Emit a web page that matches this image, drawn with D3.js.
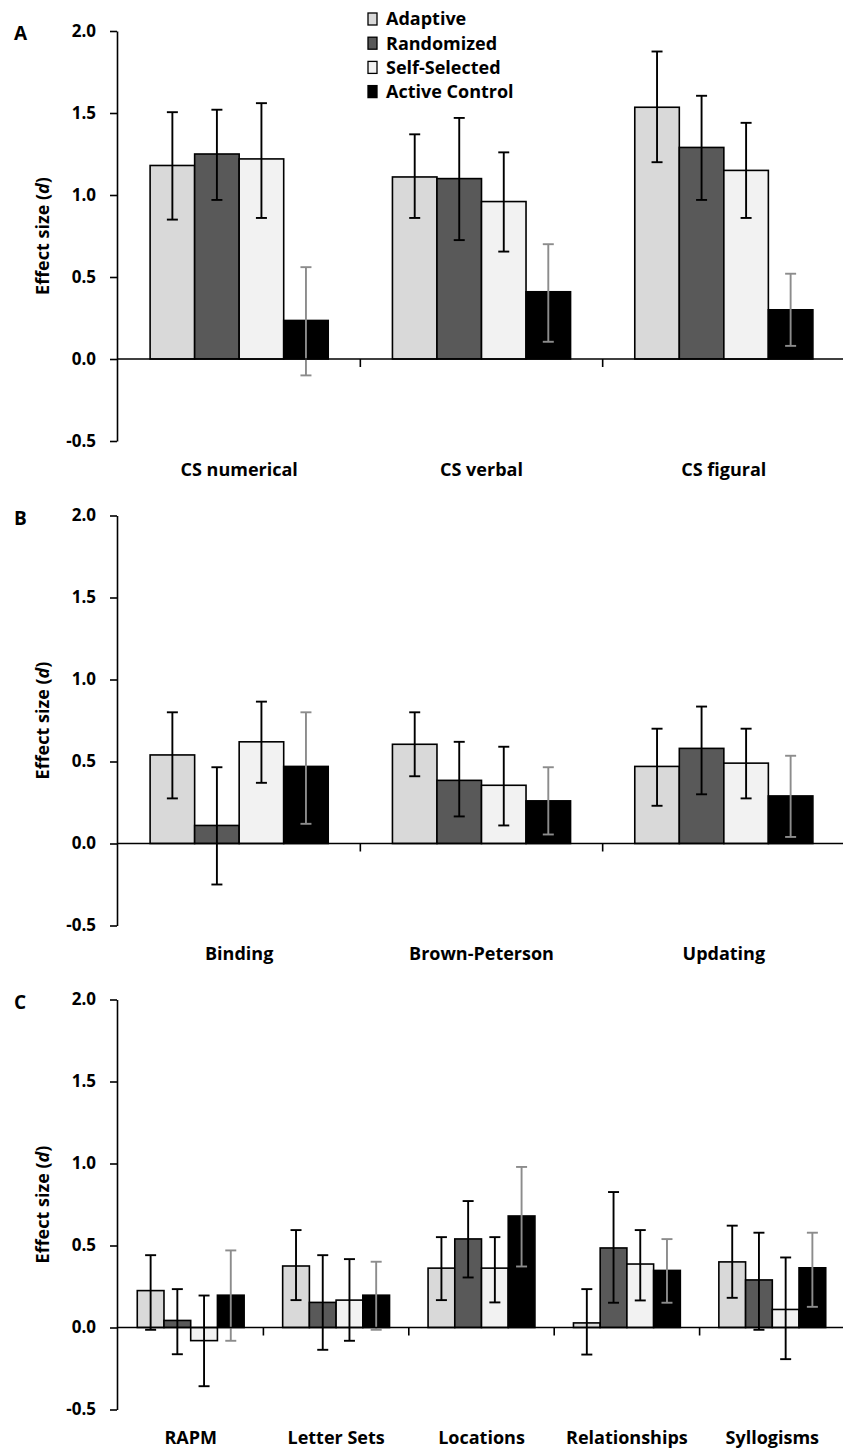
<!DOCTYPE html>
<html>
<head>
<meta charset="utf-8">
<script src="https://cdn.jsdelivr.net/npm/d3@7"></script>
<style>
  body { margin: 0; background: #fff; }
  text { font-family: "Open Sans", sans-serif; font-weight: bold; fill: #000; }
</style>
</head>
<body>
<div id="chart-area"></div>
<script>
// Data
const seriesNames = ["Adaptive", "Randomized", "Self-Selected", "Active Control"]
const yTicks = [-0.5, 0, 0.5, 1, 1.5, 2]

const catsA = ["CS numerical", "CS verbal", "CS figural"]
const meanA = [[1.18, 1.25, 1.22, 0.235], [1.11, 1.10, 0.96, 0.41], [1.535, 1.29, 1.15, 0.30]]
const lowA = [[0.85, 0.97, 0.86, -0.10], [0.86, 0.725, 0.655, 0.105], [1.20, 0.97, 0.86, 0.08]]
const highA = [[1.505, 1.52, 1.56, 0.56], [1.37, 1.47, 1.26, 0.70], [1.875, 1.605, 1.44, 0.52]]

const catsB = ["Binding", "Brown-Peterson", "Updating"]
const meanB = [[0.54, 0.11, 0.62, 0.47], [0.605, 0.385, 0.355, 0.26], [0.47, 0.58, 0.49, 0.29]]
const lowB = [[0.275, -0.25, 0.37, 0.12], [0.41, 0.165, 0.11, 0.055], [0.23, 0.30, 0.275, 0.04]]
const highB = [[0.80, 0.465, 0.865, 0.80], [0.80, 0.62, 0.59, 0.465], [0.70, 0.835, 0.70, 0.535]]

const catsC = ["RAPM", "Letter Sets", "Locations", "Relationships", "Syllogisms"]
const meanC = [[0.225, 0.043, -0.08, 0.197], [0.375, 0.153, 0.167, 0.197], [0.362, 0.54, 0.362, 0.68],
  [0.028, 0.485, 0.387, 0.348], [0.40, 0.29, 0.11, 0.364]]
const lowC = [[-0.014, -0.163, -0.358, -0.081], [0.167, -0.136, -0.081, -0.014], [0.167, 0.305, 0.153, 0.372],
  [-0.165, 0.151, 0.165, 0.151], [0.181, -0.014, -0.193, 0.126]]
const highC = [[0.441, 0.234, 0.195, 0.47], [0.594, 0.441, 0.417, 0.401], [0.551, 0.771, 0.551, 0.979],
  [0.234, 0.826, 0.594, 0.539], [0.621, 0.578, 0.427, 0.578]]

const panelLetters = ["A", "B", "C"]

const WIDTH = 843
const HEIGHT = 1451
const AXIS_X = 117
const X_RANGE = [118, 845]
const PANEL_TOPS = [31, 515.5, 999.5]
const PANEL_H = 410

const fills = ["#d9d9d9", "#595959", "#f2f2f2", "#000000"]
const errColors = ["#000", "#000", "#000", "#8c8c8c"]

const svg = d3.select("#chart-area").append("svg")
  .attr("width", WIDTH)
  .attr("height", HEIGHT)

const panels = [
  { cats: catsA, mean: meanA, low: lowA, high: highA },
  { cats: catsB, mean: meanB, low: lowB, high: highB },
  { cats: catsC, mean: meanC, low: lowC, high: highC }
]

// plain hyphen for negatives, like the original
const fmt = d => d3.format(".1f")(d).replace("\u2212", "-")

panels.forEach((p, pi) => {
  const top = PANEL_TOPS[pi]
  const g = svg.append("g")

  const y = d3.scaleLinear()
    .domain([-0.5, 2])
    .range([top + PANEL_H, top])

  const x0 = d3.scaleBand()
    .domain(p.cats)
    .range(X_RANGE)

  const groupW = x0.bandwidth() * 0.735
  const x1 = d3.scaleBand()
    .domain(d3.range(seriesNames.length))
    .range([(x0.bandwidth() - groupW) / 2, (x0.bandwidth() + groupW) / 2])

  // rows: one per (category, series)
  const rows = []
  p.cats.forEach((c, ci) => {
    seriesNames.forEach((s, si) => {
      rows.push({ cat: c, si: si, v: p.mean[ci][si], lo: p.low[ci][si], hi: p.high[ci][si] })
    })
  })

  // bars
  g.selectAll("rect.bar").data(rows).enter().append("rect")
    .attr("class", "bar")
    .attr("x", d => x0(d.cat) + x1(d.si))
    .attr("width", x1.bandwidth())
    .attr("y", d => y(Math.max(d.v, 0)))
    .attr("height", d => Math.abs(y(d.v) - y(0)))
    .attr("fill", d => fills[d.si])
    .attr("stroke", "#000")
    .attr("stroke-width", 1.6)

  // error bars
  const capW = 11
  const eb = g.selectAll("g.err").data(rows).enter().append("g")
    .attr("class", "err")
    .attr("stroke", d => errColors[d.si])
    .attr("stroke-width", 1.9)
    .attr("transform", d => `translate(${x0(d.cat) + x1(d.si) + x1.bandwidth() / 2},0)`)
  eb.append("line")
    .attr("y1", d => y(d.lo)).attr("y2", d => y(d.hi))
  eb.append("line")
    .attr("x1", -capW / 2).attr("x2", capW / 2)
    .attr("y1", d => y(d.hi)).attr("y2", d => y(d.hi))
  eb.append("line")
    .attr("x1", -capW / 2).attr("x2", capW / 2)
    .attr("y1", d => y(d.lo)).attr("y2", d => y(d.lo))

  // zero line with category separators
  g.append("line")
    .attr("x1", AXIS_X).attr("x2", WIDTH)
    .attr("y1", y(0)).attr("y2", y(0))
    .attr("stroke", "#000").attr("stroke-width", 1.6)
  g.selectAll("line.sep").data(p.cats.slice(1)).enter().append("line")
    .attr("class", "sep")
    .attr("x1", d => x0(d)).attr("x2", d => x0(d))
    .attr("y1", y(0)).attr("y2", y(0) + 8)
    .attr("stroke", "#000").attr("stroke-width", 1.6)

  // Y axis
  const yAxisCall = d3.axisLeft(y)
    .tickValues(yTicks)
    .tickFormat(fmt)
    .tickSize(7)
    .tickSizeOuter(0)
    .tickPadding(14)
  const yAxisGroup = g.append("g")
    .attr("transform", `translate(${AXIS_X},0)`)
    .call(yAxisCall)
  yAxisGroup.select(".domain").attr("stroke", "#000").attr("stroke-width", 1.6)
  yAxisGroup.selectAll(".tick line").attr("stroke", "#000").attr("stroke-width", 1.6)
  yAxisGroup.selectAll(".tick text")
    .attr("font-size", "17px")
    .attr("font-family", "Open Sans, sans-serif")
    .attr("font-weight", "bold")
    .attr("fill", "#000")

  // category labels
  const xAxisCall = d3.axisBottom(x0).tickSize(0).tickPadding(22)
  const xAxisGroup = g.append("g")
    .attr("transform", `translate(0,${y(-0.5)})`)
    .call(xAxisCall)
  xAxisGroup.select(".domain").remove()
  xAxisGroup.selectAll(".tick text")
    .attr("font-size", "18px")
    .attr("font-family", "Open Sans, sans-serif")
    .attr("font-weight", "bold")
    .attr("fill", "#000")

  // Y label
  const yLabel = g.append("text")
    .attr("transform", `translate(49,${(y(2) + y(-0.5)) / 2}) rotate(-90)`)
    .attr("text-anchor", "middle")
    .attr("font-size", "18px")
  yLabel.append("tspan").text("Effect size (")
  yLabel.append("tspan").attr("font-style", "italic").text("d")
  yLabel.append("tspan").text(")")

  // panel letter
  g.append("text")
    .attr("x", 14)
    .attr("y", y(2) + 9)
    .attr("font-size", "19px")
    .text(panelLetters[pi])
})

// Legend
const legend = svg.append("g").attr("transform", "translate(368,0)")
const legRows = legend.selectAll("g").data(seriesNames).enter().append("g")
  .attr("transform", (d, i) => `translate(0,${19 + i * 24.2})`)
legRows.append("rect")
  .attr("x", 0).attr("y", -6)
  .attr("width", 9).attr("height", 12)
  .attr("fill", (d, i) => fills[i])
  .attr("stroke", "#000").attr("stroke-width", 1.3)
legRows.append("text")
  .attr("x", 18).attr("dy", "0.36em")
  .attr("font-size", "18px")
  .text(d => d)
</script>
</body>
</html>
